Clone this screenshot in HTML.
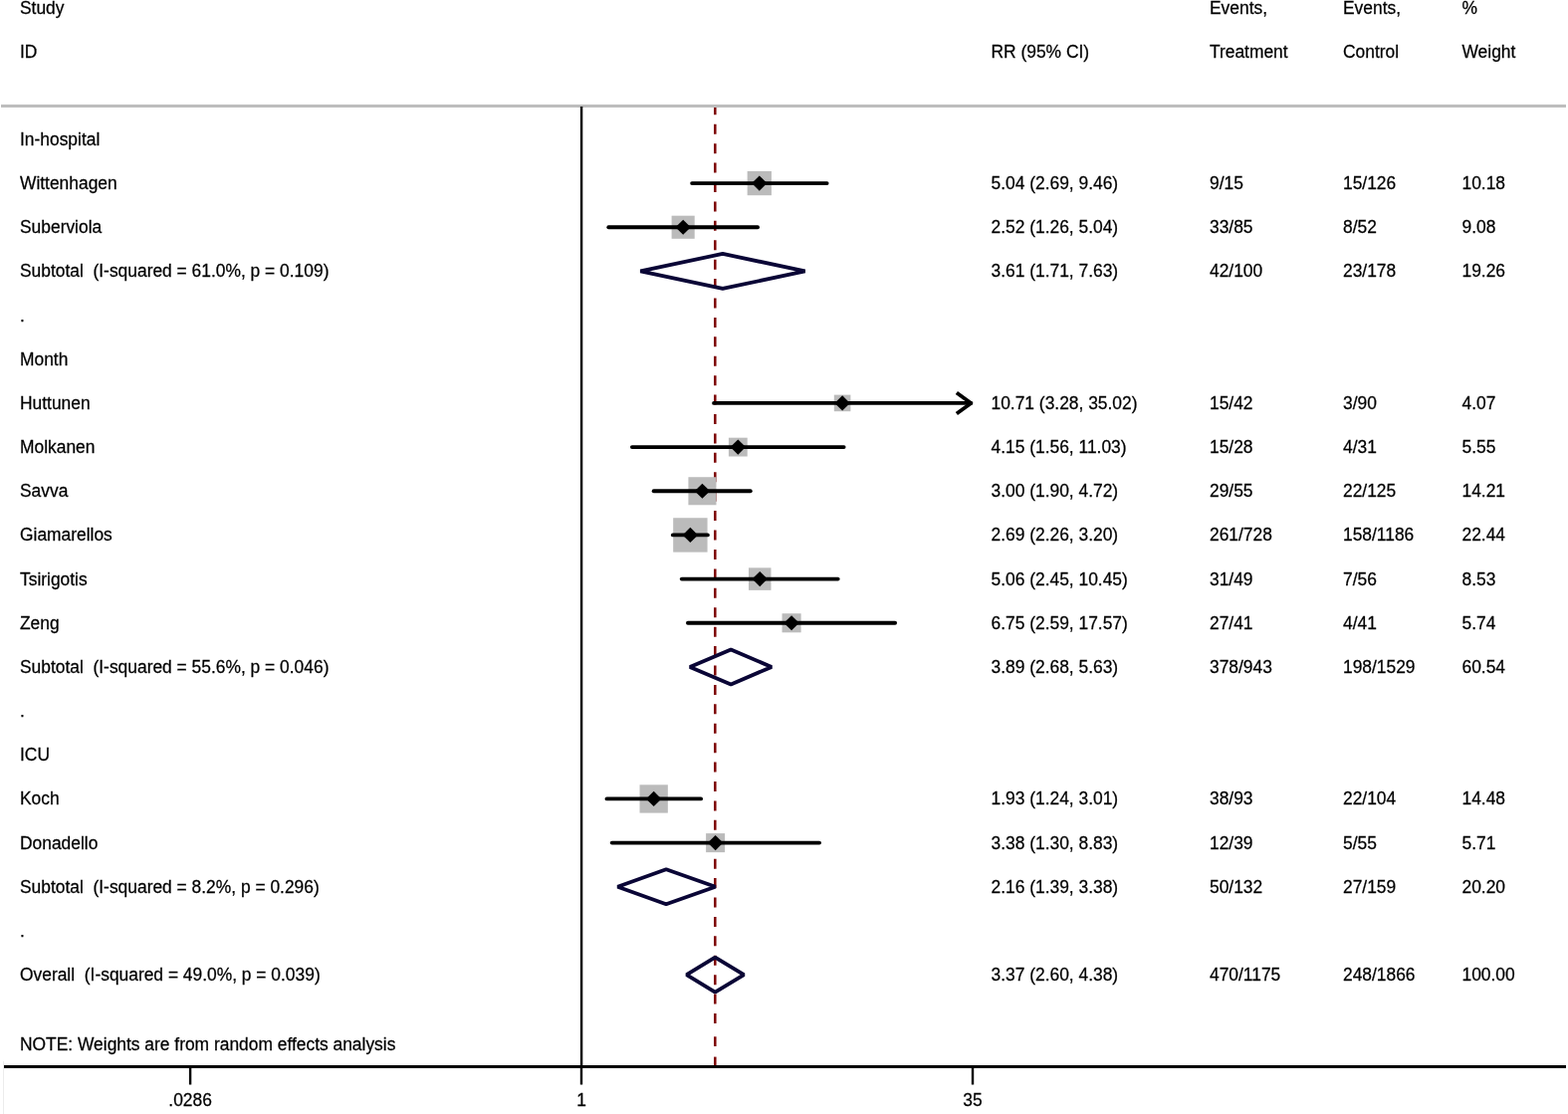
<!DOCTYPE html>
<html><head><meta charset="utf-8"><title>Forest plot</title>
<style>
html,body{margin:0;padding:0;background:#fff;}
body{width:1575px;height:1119px;overflow:hidden;}
svg{display:block;}
text{font-family:"Liberation Sans",Arial,sans-serif;font-size:17.7px;fill:#000;stroke:#000;stroke-width:0.25px;white-space:pre;}
</style></head><body>
<svg width="1575" height="1119" viewBox="0 0 1575 1119">
<rect width="1575" height="1119" fill="#fff"/>
<line x1="718.3" y1="105.3" x2="718.3" y2="1028.1" stroke="#7d0000" stroke-width="2.5" stroke-dasharray="10 9.42"/>
<line x1="718.3" y1="1041.3" x2="718.3" y2="1051" stroke="#7d0000" stroke-width="2.5"/>
<line x1="718.3" y1="1061.6" x2="718.3" y2="1070" stroke="#7d0000" stroke-width="2.5"/>
<rect x="1" y="105" width="1572" height="3" fill="#bdbdbd"/>
<rect x="582.9" y="107" width="2.4" height="966" fill="#000"/>
<rect x="4" y="1070" width="1569" height="3" fill="#000"/>
<rect x="3" y="1066" width="1" height="53" fill="#ececec"/>
<rect x="189.9" y="1072" width="2.4" height="17.5" fill="#000"/>
<rect x="582.8" y="1072" width="2.4" height="17.5" fill="#000"/>
<rect x="975.81" y="1072" width="2.4" height="17.5" fill="#000"/>
<rect x="750.65" y="171.94" width="24.27" height="24.27" fill="#bbbbbb"/>
<line x1="695.08" y1="184.07" x2="830.69" y2="184.07" stroke="#000" stroke-width="3.8" stroke-linecap="round"/>
<polygon points="755.09,184.07 762.79,176.47 770.49,184.07 762.79,191.67" fill="#000"/>
<rect x="674.61" y="216.69" width="23.11" height="23.11" fill="#bbbbbb"/>
<line x1="611.25" y1="228.24" x2="761.09" y2="228.24" stroke="#000" stroke-width="3.8" stroke-linecap="round"/>
<polygon points="678.47,228.24 686.17,220.64 693.87,228.24 686.17,235.84" fill="#000"/>
<polygon points="643.3,272.41 725.9,254.91 808.63,272.41 725.9,289.91" fill="none" stroke="#0a0636" stroke-width="3.8" stroke-linejoin="bevel"/>
<rect x="837.81" y="396.62" width="16.59" height="16.59" fill="#bbbbbb"/>
<line x1="717" y1="404.92" x2="975.37" y2="404.92" stroke="#000" stroke-width="3.8" stroke-linecap="round"/>
<polyline points="960.87,394.42 975.37,404.92 960.87,415.42" fill="none" stroke="#000" stroke-width="3.8" stroke-linejoin="round"/>
<polygon points="838.41,404.92 846.11,397.32 853.81,404.92 846.11,412.52" fill="#000"/>
<rect x="731.91" y="439.69" width="18.81" height="18.81" fill="#bbbbbb"/>
<line x1="634.86" y1="449.09" x2="847.66" y2="449.09" stroke="#000" stroke-width="3.8" stroke-linecap="round"/>
<polygon points="733.61,449.09 741.31,441.49 749.01,449.09 741.31,456.69" fill="#000"/>
<rect x="691.41" y="479.23" width="28.05" height="28.05" fill="#bbbbbb"/>
<line x1="656.65" y1="493.26" x2="753.84" y2="493.26" stroke="#000" stroke-width="3.8" stroke-linecap="round"/>
<polygon points="697.74,493.26 705.44,485.66 713.14,493.26 705.44,500.86" fill="#000"/>
<rect x="676.19" y="520.24" width="34.38" height="34.38" fill="#bbbbbb"/>
<line x1="675.83" y1="537.43" x2="710.87" y2="537.43" stroke="#000" stroke-width="3.8" stroke-linecap="round"/>
<polygon points="685.68,537.43 693.38,529.83 701.08,537.43 693.38,545.03" fill="#000"/>
<rect x="751.98" y="570.35" width="22.5" height="22.5" fill="#bbbbbb"/>
<line x1="684.75" y1="581.6" x2="841.69" y2="581.6" stroke="#000" stroke-width="3.8" stroke-linecap="round"/>
<polygon points="755.53,581.6 763.23,574 770.93,581.6 763.23,589.2" fill="#000"/>
<rect x="785.55" y="616.24" width="19.07" height="19.07" fill="#bbbbbb"/>
<line x1="690.9" y1="625.77" x2="899.13" y2="625.77" stroke="#000" stroke-width="3.8" stroke-linecap="round"/>
<polygon points="787.38,625.77 795.08,618.17 802.78,625.77 795.08,633.37" fill="#000"/>
<polygon points="692.97,669.94 734.16,652.44 775.03,669.94 734.16,687.44" fill="none" stroke="#0a0636" stroke-width="3.8" stroke-linejoin="bevel"/>
<rect x="642.54" y="788.31" width="28.29" height="28.29" fill="#bbbbbb"/>
<line x1="609.48" y1="802.45" x2="704.11" y2="802.45" stroke="#000" stroke-width="3.8" stroke-linecap="round"/>
<polygon points="648.98,802.45 656.68,794.85 664.38,802.45 656.68,810.05" fill="#000"/>
<rect x="709.11" y="837.11" width="19.03" height="19.03" fill="#bbbbbb"/>
<line x1="614.7" y1="846.62" x2="823.07" y2="846.62" stroke="#000" stroke-width="3.8" stroke-linecap="round"/>
<polygon points="710.92,846.62 718.62,839.02 726.32,846.62 718.62,854.22" fill="#000"/>
<polygon points="620.4,890.79 669.13,873.29 718.62,890.79 669.13,908.29" fill="none" stroke="#0a0636" stroke-width="3.8" stroke-linejoin="bevel"/>
<polygon points="689.62,979.13 718.3,961.63 747.27,979.13 718.3,996.63" fill="none" stroke="#0a0636" stroke-width="3.8" stroke-linejoin="bevel"/>
<g transform="scale(0.983,1)">
<text x="20.35" y="13.79">Study</text>
<text x="1236.01" y="13.79">Events,</text>
<text x="1372.33" y="13.79">Events,</text>
<text x="1493.9" y="13.79">%</text>
<text x="20.35" y="57.56">ID</text>
<text x="1012.72" y="57.56">RR (95% CI)</text>
<text x="1236.01" y="57.56">Treatment</text>
<text x="1372.33" y="57.56">Control</text>
<text x="1493.9" y="57.56">Weight</text>
<text x="20.35" y="145.9">In-hospital</text>
<text x="20.35" y="190.07">Wittenhagen</text>
<text x="1012.72" y="190.07">5.04 (2.69, 9.46)</text>
<text x="1236.01" y="190.07">9/15</text>
<text x="1372.33" y="190.07">15/126</text>
<text x="1493.9" y="190.07">10.18</text>
<text x="20.35" y="234.24">Suberviola</text>
<text x="1012.72" y="234.24">2.52 (1.26, 5.04)</text>
<text x="1236.01" y="234.24">33/85</text>
<text x="1372.33" y="234.24">8/52</text>
<text x="1493.9" y="234.24">9.08</text>
<text x="20.35" y="278.41">Subtotal  (I-squared = 61.0%, p = 0.109)</text>
<text x="1012.72" y="278.41">3.61 (1.71, 7.63)</text>
<text x="1236.01" y="278.41">42/100</text>
<text x="1372.33" y="278.41">23/178</text>
<text x="1493.9" y="278.41">19.26</text>
<text x="20.35" y="322.58">.</text>
<text x="20.35" y="366.75">Month</text>
<text x="20.35" y="410.92">Huttunen</text>
<text x="1012.72" y="410.92">10.71 (3.28, 35.02)</text>
<text x="1236.01" y="410.92">15/42</text>
<text x="1372.33" y="410.92">3/90</text>
<text x="1493.9" y="410.92">4.07</text>
<text x="20.35" y="455.09">Molkanen</text>
<text x="1012.72" y="455.09">4.15 (1.56, 11.03)</text>
<text x="1236.01" y="455.09">15/28</text>
<text x="1372.33" y="455.09">4/31</text>
<text x="1493.9" y="455.09">5.55</text>
<text x="20.35" y="499.26">Savva</text>
<text x="1012.72" y="499.26">3.00 (1.90, 4.72)</text>
<text x="1236.01" y="499.26">29/55</text>
<text x="1372.33" y="499.26">22/125</text>
<text x="1493.9" y="499.26">14.21</text>
<text x="20.35" y="543.43">Giamarellos</text>
<text x="1012.72" y="543.43">2.69 (2.26, 3.20)</text>
<text x="1236.01" y="543.43">261/728</text>
<text x="1372.33" y="543.43">158/1186</text>
<text x="1493.9" y="543.43">22.44</text>
<text x="20.35" y="587.6">Tsirigotis</text>
<text x="1012.72" y="587.6">5.06 (2.45, 10.45)</text>
<text x="1236.01" y="587.6">31/49</text>
<text x="1372.33" y="587.6">7/56</text>
<text x="1493.9" y="587.6">8.53</text>
<text x="20.35" y="631.77">Zeng</text>
<text x="1012.72" y="631.77">6.75 (2.59, 17.57)</text>
<text x="1236.01" y="631.77">27/41</text>
<text x="1372.33" y="631.77">4/41</text>
<text x="1493.9" y="631.77">5.74</text>
<text x="20.35" y="675.94">Subtotal  (I-squared = 55.6%, p = 0.046)</text>
<text x="1012.72" y="675.94">3.89 (2.68, 5.63)</text>
<text x="1236.01" y="675.94">378/943</text>
<text x="1372.33" y="675.94">198/1529</text>
<text x="1493.9" y="675.94">60.54</text>
<text x="20.35" y="720.11">.</text>
<text x="20.35" y="764.28">ICU</text>
<text x="20.35" y="808.45">Koch</text>
<text x="1012.72" y="808.45">1.93 (1.24, 3.01)</text>
<text x="1236.01" y="808.45">38/93</text>
<text x="1372.33" y="808.45">22/104</text>
<text x="1493.9" y="808.45">14.48</text>
<text x="20.35" y="852.62">Donadello</text>
<text x="1012.72" y="852.62">3.38 (1.30, 8.83)</text>
<text x="1236.01" y="852.62">12/39</text>
<text x="1372.33" y="852.62">5/55</text>
<text x="1493.9" y="852.62">5.71</text>
<text x="20.35" y="896.79">Subtotal  (I-squared = 8.2%, p = 0.296)</text>
<text x="1012.72" y="896.79">2.16 (1.39, 3.38)</text>
<text x="1236.01" y="896.79">50/132</text>
<text x="1372.33" y="896.79">27/159</text>
<text x="1493.9" y="896.79">20.20</text>
<text x="20.35" y="940.96">.</text>
<text x="20.35" y="985.13">Overall  (I-squared = 49.0%, p = 0.039)</text>
<text x="1012.72" y="985.13">3.37 (2.60, 4.38)</text>
<text x="1236.01" y="985.13">470/1175</text>
<text x="1372.33" y="985.13">248/1866</text>
<text x="1493.9" y="985.13">100.00</text>
<text x="20.35" y="1055.4">NOTE: Weights are from random effects analysis</text>
<text x="194.41" y="1110.7" text-anchor="middle">.0286</text>
<text x="594.1" y="1110.7" text-anchor="middle">1</text>
<text x="993.9" y="1110.7" text-anchor="middle">35</text>
</g>
</svg>
</body></html>
